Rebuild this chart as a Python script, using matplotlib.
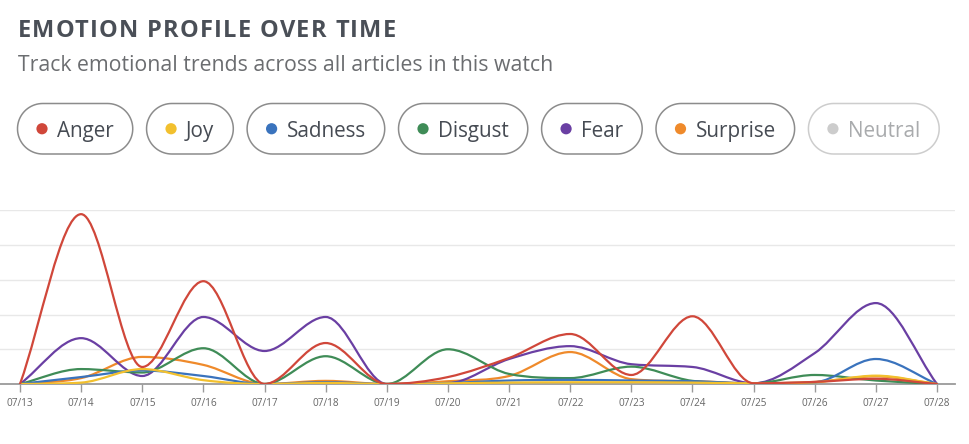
import matplotlib
matplotlib.use('Agg')
import matplotlib.pyplot as plt
from matplotlib.path import Path
from matplotlib.patches import PathPatch, Polygon, Circle
import numpy as np

# ---------------- data ----------------
dates = ['07/13', '07/14', '07/15', '07/16', '07/17', '07/18', '07/19', '07/20',
         '07/21', '07/22', '07/23', '07/24', '07/25', '07/26', '07/27', '07/28']
anger    = [0, 4.89, 0.49, 2.96, 0, 1.18, 0, 0.20, 0.75, 1.44, 0.26, 1.95, 0.02, 0.06, 0.15, 0]
joy      = [0, 0.04, 0.43, 0.11, 0, 0.03, 0, 0.02, 0.04, 0.05, 0.05, 0.04, 0.02, 0.05, 0.24, 0]
sadness  = [0, 0.20, 0.39, 0.23, 0, 0.05, 0, 0.03, 0.10, 0.12, 0.10, 0.08, 0.02, 0.05, 0.72, 0]
disgust  = [0, 0.43, 0.33, 1.03, 0, 0.80, 0, 1.00, 0.29, 0.17, 0.50, 0.09, 0.02, 0.26, 0.10, 0]
fear     = [0, 1.32, 0.23, 1.93, 0.95, 1.93, 0, 0.02, 0.72, 1.09, 0.57, 0.49, 0.02, 0.89, 2.33, 0]
surprise = [0, 0.17, 0.78, 0.55, 0, 0.09, 0, 0.08, 0.23, 0.92, 0.14, 0.08, 0.02, 0.06, 0.22, 0]

legend_labels = ['Anger', 'Joy', 'Sadness', 'Disgust', 'Fear', 'Surprise', 'Neutral']
legend_colors = ['#d0473a', '#f2c02e', '#3a73bd', '#3f8c57', '#6a3fa3', '#ef8a2b', '#cccccc']
legend_hidden = [False, False, False, False, False, False, True]
series = [anger, joy, sadness, disgust, fear, surprise]

title = 'EMOTION PROFILE OVER TIME'
subtitle = 'Track emotional trends across all articles in this watch'

# ---------------- figure ----------------
W, H = 970, 444
fig = plt.figure(figsize=(W / 100, H / 100), dpi=100)
fig.patch.set_facecolor('white')

over = fig.add_axes([0, 0, 1, 1], zorder=5)
over.set_xlim(0, W)
over.set_ylim(H, 0)
over.axis('off')
over.patch.set_alpha(0)
renderer = fig.canvas.get_renderer()

FONT = 'Open Sans'


def text_w(s, **kw):
    t = over.text(0, 0, s, **kw)
    w = t.get_window_extent(renderer).width
    t.remove()
    return w


# ---- title with letter spacing ----
title_kw = dict(fontfamily=FONT, fontweight='bold', fontsize=17.0, color='#4a4f57')
x0, target = 17.5, 396 - 17.5
natural = text_w(title, **title_kw)
if natural > target:
    title_kw['fontsize'] *= target / natural
    natural = text_w(title, **title_kw)
sp = (target - natural) / (len(title) - 1)
for i, ch in enumerate(title):
    if ch == ' ':
        continue
    start = text_w(title[:i + 1], **title_kw) - text_w(ch, **title_kw)
    over.text(x0 + start + i * sp, 37.3, ch, ha='left', va='baseline', **title_kw)

# ---- subtitle ----
sub_kw = dict(fontfamily=FONT, fontsize=15, color='#6b6d70')
sw = text_w(subtitle, **sub_kw)
sub_kw['fontsize'] *= (553 - 18) / sw
over.text(18, 70.7, subtitle, ha='left', va='baseline', **sub_kw)


def stadium(x, y, w, h, n=40):
    r = h / 2
    cy = y + r
    a1 = np.linspace(np.pi / 2, 3 * np.pi / 2, n)
    a2 = np.linspace(-np.pi / 2, np.pi / 2, n)
    left = np.column_stack([x + r + r * np.cos(a1), cy - r * np.sin(a1)])
    right = np.column_stack([x + w - r + r * np.cos(a2), cy - r * np.sin(a2)])
    return np.vstack([left, right])


# ---- legend pills ----
pill_kw = dict(fontfamily=FONT, fontsize=14)
PAD_DOT, DOT_TXT, PAD_R, GAP = 24.5, 15.0, 19.0, 13.8
span_total = 939.5 - 17.5
tw_sum = sum(text_w(l, **pill_kw) for l in legend_labels)
tw_target = span_total - 6 * GAP - 7 * (PAD_DOT + DOT_TXT + PAD_R)
pill_kw['fontsize'] *= tw_target / tw_sum
top, hgt = 103.5, 50.5
x = 17.5
for lab, col, hid in zip(legend_labels, legend_colors, legend_hidden):
    tw = text_w(lab, **pill_kw)
    wdt = PAD_DOT + DOT_TXT + tw + PAD_R
    ec = '#cdcdcd' if hid else '#8c8c8c'
    over.add_patch(Polygon(stadium(x, top, wdt, hgt), closed=True,
                           fc='white', ec=ec, lw=1.1))
    over.add_patch(Circle((x + PAD_DOT, top + hgt / 2), 5.6, color=col, lw=0))
    over.text(x + PAD_DOT + DOT_TXT, top + hgt / 2 + 0.5, lab, ha='left', va='center_baseline',
              color='#a9abad' if hid else '#464b53', **pill_kw)
    x += wdt + GAP

# ---------------- chart ----------------
ax_left, ax_right, ax_bot, ax_top = 0, 955, 384, 210
ax = fig.add_axes([ax_left / W, (H - ax_bot) / H, (ax_right - ax_left) / W, (ax_bot - ax_top) / H])
xs = np.arange(len(dates))
px_per_day = (937 - 20) / 15
ax.set_xlim(-20 / px_per_day, 15 + (ax_right - 937) / px_per_day)
ax.set_ylim(0, 5.01)
ax.set_yticks([1, 2, 3, 4, 5])
ax.yaxis.grid(True, color='#e8e8e8', lw=1.0)
ax.tick_params(axis='y', length=0, labelleft=False)
ax.set_xticks(xs)
ax.set_xticklabels(dates, fontfamily=FONT, fontsize=7.2, color='#666666')
ax.tick_params(axis='x', length=6, width=1.0, color='#9a9a9a', pad=4)
for s in ['left', 'right', 'top']:
    ax.spines[s].set_visible(False)
ax.spines['bottom'].set_color('#9a9a9a')
ax.spines['bottom'].set_linewidth(1.3)
ax.set_axisbelow(True)


def monotone_path(x, y):
    x = np.asarray(x, float)
    y = np.asarray(y, float)
    n = len(x)
    d = np.diff(y) / np.diff(x)
    m = np.zeros(n)
    m[0] = d[0]
    m[-1] = d[-1]
    for i in range(1, n - 1):
        m[i] = 0 if d[i - 1] * d[i] <= 0 else (d[i - 1] + d[i]) / 2
    for i in range(n - 1):
        if d[i] == 0:
            m[i] = m[i + 1] = 0
            continue
        a, b = m[i] / d[i], m[i + 1] / d[i]
        sq = a * a + b * b
        if sq > 9:
            tau = 3 / np.sqrt(sq)
            m[i] = a * tau * d[i]
            m[i + 1] = b * tau * d[i]
    verts = [(x[0], y[0])]
    codes = [Path.MOVETO]
    for i in range(n - 1):
        dx = (x[i + 1] - x[i]) / 3
        verts += [(x[i] + dx, y[i] + m[i] * dx),
                  (x[i + 1] - dx, y[i + 1] - m[i + 1] * dx),
                  (x[i + 1], y[i + 1])]
        codes += [Path.CURVE4] * 3
    return Path(verts, codes)


for k, (vals, col) in enumerate(zip(series, legend_colors)):
    patch = PathPatch(monotone_path(xs, vals), fill=False, ec=col, lw=1.6,
                      zorder=10 - k, capstyle='round', joinstyle='round')
    ax.add_patch(patch)

fig.savefig('out.png', dpi=100, facecolor='white')
